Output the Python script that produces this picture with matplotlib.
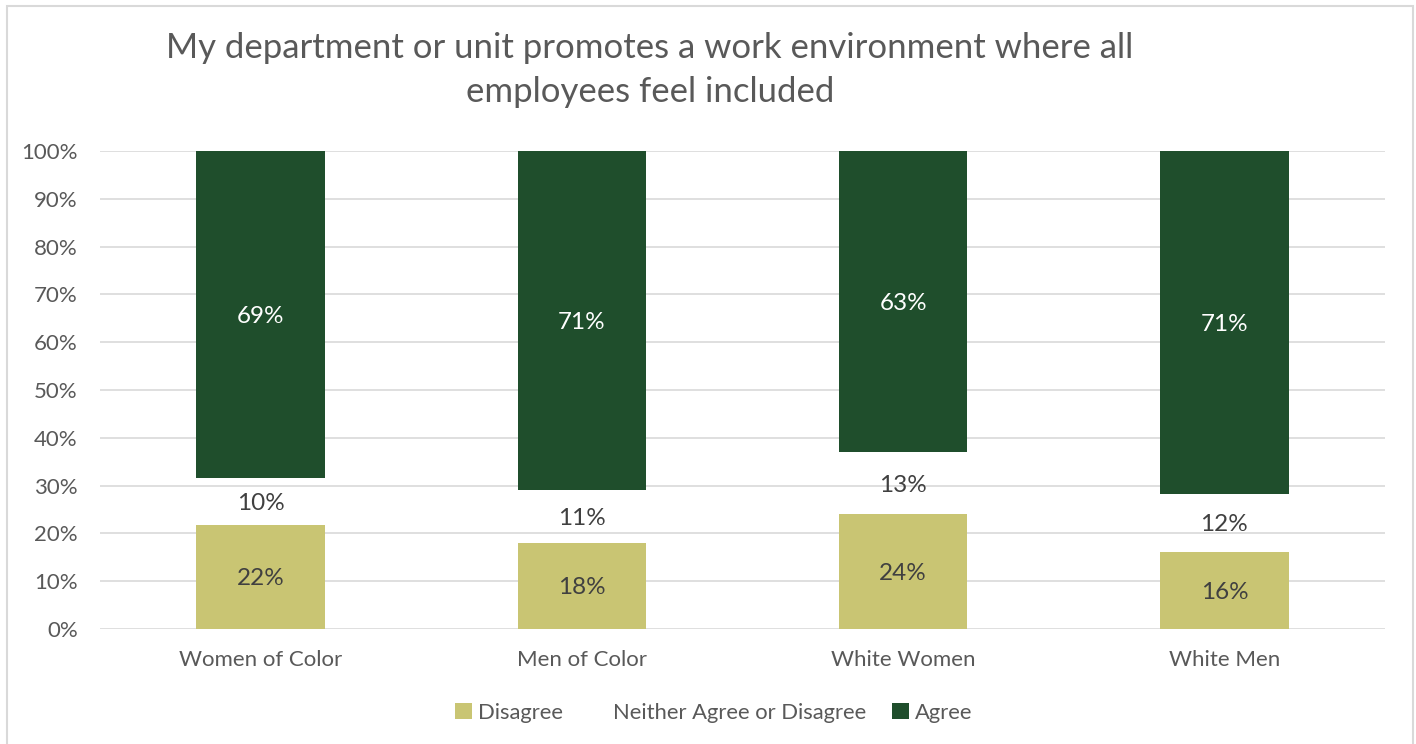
import matplotlib
matplotlib.use("Agg")
import matplotlib.pyplot as plt
from matplotlib.patches import Rectangle, Patch
from matplotlib.ticker import MultipleLocator, FuncFormatter
import numpy as np

plt.rcParams['font.family'] = ['Lato', 'DejaVu Sans']

title = "My department or unit promotes a work environment where all\nemployees feel included"
groups = ["Women of Color", "Men of Color", "White Women", "White Men"]
series = ["Disagree", "Neither Agree or Disagree", "Agree"]
disagree = [22, 18, 24, 16]
neither = [10, 11, 13, 12]
agree = [69, 71, 63, 71]

colors = {"Disagree": "#c9c573", "Neither Agree or Disagree": "none", "Agree": "#1f4e2c"}
label_colors = {"Disagree": "#404040", "Neither Agree or Disagree": "#404040", "Agree": "white"}

W, H = 1416, 744
fig = plt.figure(figsize=(W / 100, H / 100), dpi=100)
fig.patch.set_facecolor("white")

# outer chart border
fig.add_artist(Rectangle((7 / W, -0.01), (1413 - 7) / W, 1 - 6 / H + 0.01,
                         transform=fig.transFigure, fill=False,
                         edgecolor="#d9d9d9", linewidth=1.5))

ax = fig.add_axes([100 / W, 1 - 629 / H, (1385 - 100) / W, (629 - 151) / H])

data = np.array([disagree, neither, agree], dtype=float)
totals = data.sum(axis=0)
shares = data / totals * 100  # 100% stacked

x = np.arange(len(groups))
bottom = np.zeros(len(groups))
for name, raw, share in zip(series, data, shares):
    ax.bar(x, share, bottom=bottom, width=0.4, color=colors[name],
           edgecolor="none", zorder=2)
    for xi, b, s, v in zip(x, bottom, share, raw):
        ax.text(xi, b + s / 2, f"{int(v)}%", ha="center", va="center_baseline",
                fontsize=17.5, color=label_colors[name], zorder=3)
    bottom += share

ax.set_ylim(0, 100)
ax.set_xlim(-0.5, len(groups) - 0.5)
ax.yaxis.set_major_locator(MultipleLocator(10))
ax.yaxis.set_major_formatter(FuncFormatter(lambda v, p: f"{int(v)}%"))
ax.grid(axis="y", color="#d9d9d9", linewidth=1.2, zorder=0)
ax.set_axisbelow(True)
for s in ax.spines.values():
    s.set_visible(False)
ax.tick_params(axis="both", length=0, labelsize=16, colors="#595959")
ax.tick_params(axis="y", pad=16)
ax.tick_params(axis="x", pad=15)
ax.set_xticks(x)
ax.set_xticklabels(groups)

fig.text(650 / W, 1 - 70 / H, title, ha="center", va="center",
         fontsize=25, color="#595959", linespacing=1.45)

handles = [Patch(facecolor=colors[n], edgecolor="none") for n in series]
leg = fig.legend(handles, series, loc="center", bbox_to_anchor=(714 / W, 1 - 713 / H),
                 ncol=3, frameon=False, fontsize=15.8, handlelength=0.75,
                 handleheight=0.75, handletextpad=0.3, columnspacing=1.2)
for t in leg.get_texts():
    t.set_color("#595959")

fig.savefig("out.png", dpi=100, facecolor="white")
